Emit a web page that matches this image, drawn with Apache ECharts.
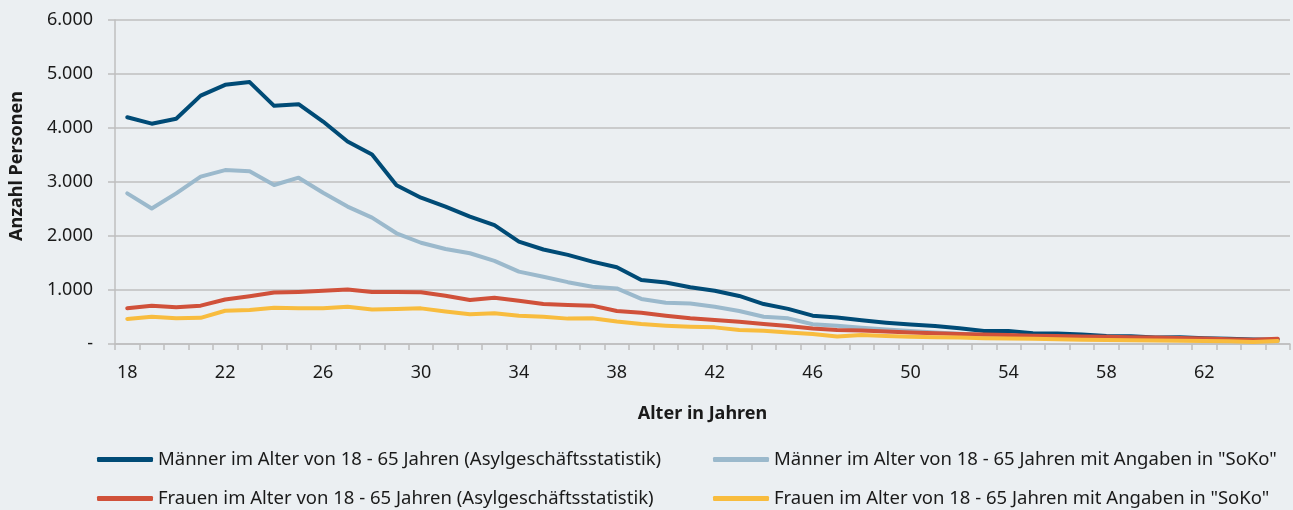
<!DOCTYPE html>
<html>
<head>
<meta charset="utf-8">
<script src="https://cdn.jsdelivr.net/npm/echarts@6/dist/echarts.min.js"></script>
<style>
    html, body {margin: 0; padding: 0; background: #ebeff2;}
    #contain {width: 1293px; height: 510px;}
</style>
</head>
<body>
<div id="contain"></div>
<script>
// Alter 18 - 65
var ages = [];
for (var a = 18; a <= 65; a++) ages.push(String(a));

var maennerAsyl = [4200, 4080, 4170, 4600, 4800, 4850, 4410, 4440, 4120, 3750, 3510, 2940,
    2710, 2545, 2360, 2200, 1895, 1750, 1650, 1525, 1420, 1185, 1140, 1050,
    985, 890, 740, 650, 525, 490, 440, 395, 360, 335, 290, 240,
    240, 200, 195, 175, 150, 145, 120, 125, 105, 95, 85, 80];
var maennerSoko = [2790, 2510, 2790, 3100, 3220, 3200, 2945, 3080, 2800, 2545, 2340, 2050,
    1875, 1760, 1680, 1540, 1340, 1245, 1145, 1060, 1030, 835, 765, 750,
    690, 610, 505, 475, 365, 340, 300, 270, 240, 215, 190, 165,
    155, 140, 130, 115, 105, 95, 85, 80, 70, 65, 55, 55];
var frauenAsyl = [660, 710, 680, 710, 825, 885, 955, 965, 985, 1010, 965, 965,
    960, 895, 815, 858, 800, 740, 722, 710, 610, 580, 525, 475,
    445, 410, 370, 335, 285, 260, 250, 230, 215, 200, 185, 175,
    165, 155, 150, 140, 135, 125, 120, 110, 100, 90, 80, 95];
var frauenSoko = [465, 505, 475, 485, 615, 630, 670, 660, 660, 690, 640, 648,
    660, 600, 550, 568, 525, 505, 470, 475, 415, 370, 340, 320,
    308, 260, 245, 215, 185, 140, 165, 150, 135, 125, 120, 105,
    100, 95, 90, 80, 75, 70, 65, 60, 55, 50, 35, 55];

var names = [
    'Männer im Alter von 18 - 65 Jahren (Asylgeschäftsstatistik)',
    'Männer im Alter von 18 - 65 Jahren mit Angaben in "SoKo"',
    'Frauen im Alter von 18 - 65 Jahren (Asylgeschäftsstatistik)',
    'Frauen im Alter von 18 - 65 Jahren mit Angaben in "SoKo"'
];
var colors = ['#004b76', '#9bb9cc', '#d0513a', '#f8bc3e'];

var font = '"Noto Sans", sans-serif';

function mkLine(name, data, color) {
    return {
        name: name,
        type: 'line',
        data: data,
        symbol: 'none',
        showSymbol: false,
        lineStyle: {color: color, width: 4, cap: 'round', join: 'round'},
        itemStyle: {color: color}
    };
}

var myChart = echarts.init(document.getElementById('contain'));
var option = {
    animation: false,
    backgroundColor: '#ebeff2',
    textStyle: {fontFamily: font, color: '#1a1a1a'},
    grid: {left: 115, right: 3, top: 20, bottom: 166, containLabel: false, outerBoundsMode: 'none'},
    legend: [
        {
            data: [names[0], names[2]],
            orient: 'vertical',
            left: 97, top: 450, height: 100,
            padding: 0,
            itemWidth: 56, itemHeight: 5, itemGap: 20,
            icon: 'roundRect',
            textStyle: {fontFamily: font, fontSize: 18.5, color: '#1a1a1a'}
        },
        {
            data: [names[1], names[3]],
            orient: 'vertical',
            left: 713, top: 450, height: 100,
            padding: 0,
            itemWidth: 56, itemHeight: 5, itemGap: 20,
            icon: 'roundRect',
            textStyle: {fontFamily: font, fontSize: 18.5, color: '#1a1a1a'}
        }
    ],
    xAxis: {
        type: 'category',
        data: ages,
        boundaryGap: true,
        name: 'Alter in Jahren',
        nameLocation: 'middle',
        nameGap: 61,
        nameTextStyle: {fontFamily: font, fontSize: 18, fontWeight: 'bold', color: '#1a1a1a'},
        axisLine: {show: true, lineStyle: {color: '#bfbfbf', width: 1.5}},
        axisTick: {show: true, interval: 0, length: 6, lineStyle: {color: '#bfbfbf', width: 1.5}},
        axisLabel: {interval: 3, margin: 20, fontFamily: font, fontSize: 18, color: '#1a1a1a'},
        splitLine: {show: false}
    },
    yAxis: {
        type: 'value',
        min: 0, max: 6000, interval: 1000,
        name: 'Anzahl Personen',
        nameLocation: 'middle',
        nameGap: 89,
        nameRotate: 90,
        nameTextStyle: {fontFamily: font, fontSize: 18, fontWeight: 'bold', color: '#1a1a1a', padding: [0, 0, 0, 32]},
        axisLine: {show: true, lineStyle: {color: '#bfbfbf', width: 1.5}},
        axisTick: {show: true, length: 7, lineStyle: {color: '#bfbfbf', width: 1.5}},
        axisLabel: {
            margin: 22, fontFamily: font, fontSize: 18, color: '#1a1a1a',
            formatter: function (v) {
                if (v === 0) return '-';
                return String(v).replace(/\B(?=(\d{3})+(?!\d))/g, '.');
            }
        },
        splitLine: {show: true, lineStyle: {color: '#bfbfbf', width: 1.5}}
    },
    series: [
        mkLine(names[0], maennerAsyl, colors[0]),
        mkLine(names[1], maennerSoko, colors[1]),
        mkLine(names[2], frauenAsyl, colors[2]),
        mkLine(names[3], frauenSoko, colors[3])
    ]
};
myChart.setOption(option, true);
</script>
</body>
</html>
